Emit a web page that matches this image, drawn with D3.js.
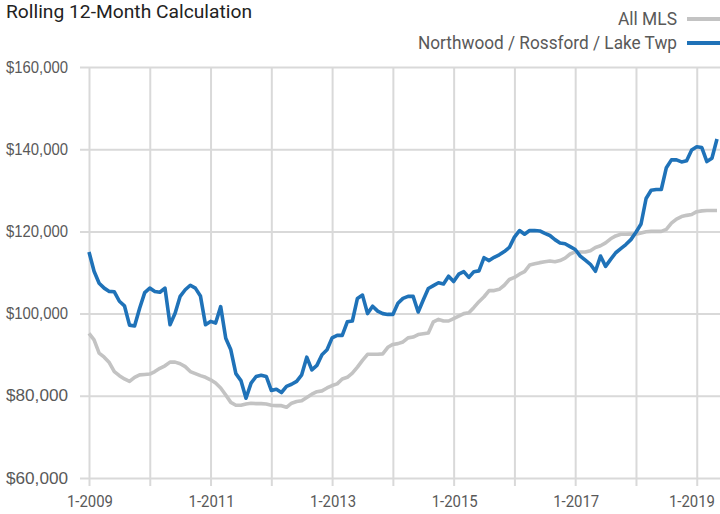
<!DOCTYPE html>
<html>
<head>
<meta charset="utf-8">
<script src="https://cdn.jsdelivr.net/npm/d3@7"></script>
<style>
  html, body { margin: 0; padding: 0; background: #fff; }
  svg { display: block; font-family: "Roboto", "Liberation Sans", sans-serif; }
</style>
</head>
<body>
<svg id="chart" width="720" height="514"></svg>
<script>
// -------------------------
// Data (monthly, Jan 2009 .. May 2019)
// -------------------------
const startYear = 2009;
const tickLabels = ["1-2009", "1-2011", "1-2013", "1-2015", "1-2017", "1-2019"];
const yTicks = [60000, 80000, 100000, 120000, 140000, 160000];
const seriesNames = ["All MLS", "Northwood / Rossford / Lake Twp"];

const allMls = [
  95200, 93600, 90400, 89400, 88100, 85900, 84900, 84100, 83500, 84500, 85100, 85200,
  85300, 85900, 86700, 87300, 88200, 88200, 87800, 87100, 85900, 85400, 84900, 84500,
  83900, 83100, 81900, 80200, 78400, 77700, 77700, 78000, 78200, 78100, 78100, 78000,
  77700, 77600, 77600, 77200, 78200, 78600, 78800, 79600, 80400, 81000, 81200, 81900,
  82500, 82900, 84100, 84500, 85500, 87000, 88600, 90100, 90100, 90100, 90200, 91800,
  92500, 92700, 93100, 94100, 94300, 94900, 95100, 95300, 98000, 98600, 98200, 98200,
  98800, 99400, 100000, 100200, 101500, 102900, 104100, 105600, 105600, 105900, 106900, 108300,
  108800, 109600, 110200, 111800, 112100, 112400, 112600, 112800, 112600, 112900, 113500, 114500,
  115000, 115000, 115000, 115300, 116100, 116500, 117200, 118200, 118900, 119300, 119300, 119400,
  119300, 119600, 119900, 120000, 120000, 120000, 120500, 122000, 123000, 123600, 123900, 124100,
  124800, 125000, 125100, 125100, 125100
];

const northwood = [
  115000, 110300, 107400, 106200, 105400, 105300, 103000, 101900, 97200, 97000, 101300, 105100,
  106200, 105400, 105200, 106200, 97300, 100100, 104200, 105800, 106900, 106200, 104300, 97300,
  98100, 97700, 101700, 94000, 91200, 85400, 83700, 79400, 83100, 84700, 85000, 84700,
  81300, 81600, 80800, 82300, 82800, 83500, 85100, 89400, 86300, 87400, 90000, 91200,
  94100, 94700, 94700, 98000, 98200, 103700, 104500, 100000, 101800, 100600, 100000, 99800,
  99800, 102500, 103700, 104200, 104200, 100400, 103300, 106100, 106800, 107500, 107200, 109100,
  107800, 109600, 110200, 108800, 110200, 110400, 113600, 112900, 113700, 114300, 115100, 116100,
  118600, 120200, 119300, 120200, 120200, 120100, 119500, 119000, 118000, 117200, 117000, 116300,
  115600, 114000, 113000, 112000, 110300, 114000, 111500, 113200, 114800, 115800, 116800, 118000,
  119800, 121800, 128000, 130000, 130200, 130200, 135500, 137400, 137400, 136900, 137200, 139800,
  140600, 140400, 137000, 137800, 142500
];

// -------------------------
// Chart
// -------------------------
const svg = d3.select("#chart");
const plotLeft = 89, plotRight = 717, plotTop = 67, plotBottom = 478;
const gridColor = "#d9d9d9";
const grayColor = "#c3c3c3";
const blueColor = "#1f72b8";
const textColor = "#595959";

const x = d3.scaleLinear().domain([0, northwood.length - 1]).range([plotLeft, plotRight]);
const y = d3.scaleLinear().domain([60000, 160000]).range([plotBottom, plotTop]);

// horizontal grid + y labels
const yAxis = d3.axisLeft(y)
  .tickValues(yTicks)
  .tickSize(-(720 - plotLeft))
  .tickPadding(21)
  .tickFormat(d => "$" + d3.format(",")(d));
const gy = svg.append("g").attr("transform", `translate(${plotLeft},0)`).call(yAxis);
gy.select(".domain").remove();
gy.selectAll(".tick line").attr("stroke", gridColor).attr("stroke-width", 2).attr("x1", -9);
gy.selectAll(".tick text")
  .attr("fill", textColor)
  .style("font-size", "16px")
  .attr("textLength", 62)
  .attr("lengthAdjust", "spacingAndGlyphs");

// vertical grid (yearly) + x labels (every other year)
const yearIdx = d3.range(0, northwood.length, 12);
const xAxis = d3.axisBottom(x)
  .tickValues(yearIdx)
  .tickSize(-(plotBottom - plotTop))
  .tickFormat(() => "");
const gx = svg.append("g").attr("transform", `translate(0,${plotBottom})`).call(xAxis);
gx.select(".domain").remove();
gx.selectAll(".tick line").attr("stroke", gridColor).attr("stroke-width", 2).attr("y1", 8);

const labelW = 46;
svg.append("g").selectAll("text")
  .data(tickLabels)
  .join("text")
  .attr("x", d => Math.min(x((+d.split("-")[1] - startYear) * 12) + 1, 715 - labelW / 2))
  .attr("y", 507)
  .attr("text-anchor", "middle")
  .attr("fill", textColor)
  .style("font-size", "16px")
  .attr("textLength", labelW)
  .attr("lengthAdjust", "spacingAndGlyphs")
  .text(d => d);

// lines
const line = d3.line().x((d, i) => x(i)).y(d => y(d));
svg.append("path").datum(allMls)
  .attr("d", line).attr("fill", "none")
  .attr("stroke", grayColor).attr("stroke-width", 3.6).attr("stroke-linejoin", "round");
svg.append("path").datum(northwood)
  .attr("d", line).attr("fill", "none")
  .attr("stroke", blueColor).attr("stroke-width", 3.6).attr("stroke-linejoin", "round");

// title
svg.append("text")
  .attr("x", 6).attr("y", 18)
  .attr("fill", "#222")
  .style("font-size", "19px")
  .attr("textLength", 246)
  .attr("lengthAdjust", "spacingAndGlyphs")
  .text("Rolling 12-Month Calculation");

// legend
const legendColors = [grayColor, blueColor];
const legendWidths = [59, 259];
const lg = svg.append("g").selectAll("g")
  .data(seriesNames)
  .join("g")
  .attr("transform", (d, i) => `translate(0,${25 + i * 24})`);
lg.append("text")
  .attr("x", 677).attr("y", 0)
  .attr("text-anchor", "end")
  .attr("fill", textColor)
  .style("font-size", "19px")
  .attr("textLength", (d, i) => legendWidths[i])
  .attr("lengthAdjust", "spacingAndGlyphs")
  .text(d => d);
lg.append("line")
  .attr("x1", 687).attr("x2", 720)
  .attr("y1", -6).attr("y2", -6)
  .attr("stroke", (d, i) => legendColors[i])
  .attr("stroke-width", 4);
</script>
</body>
</html>
